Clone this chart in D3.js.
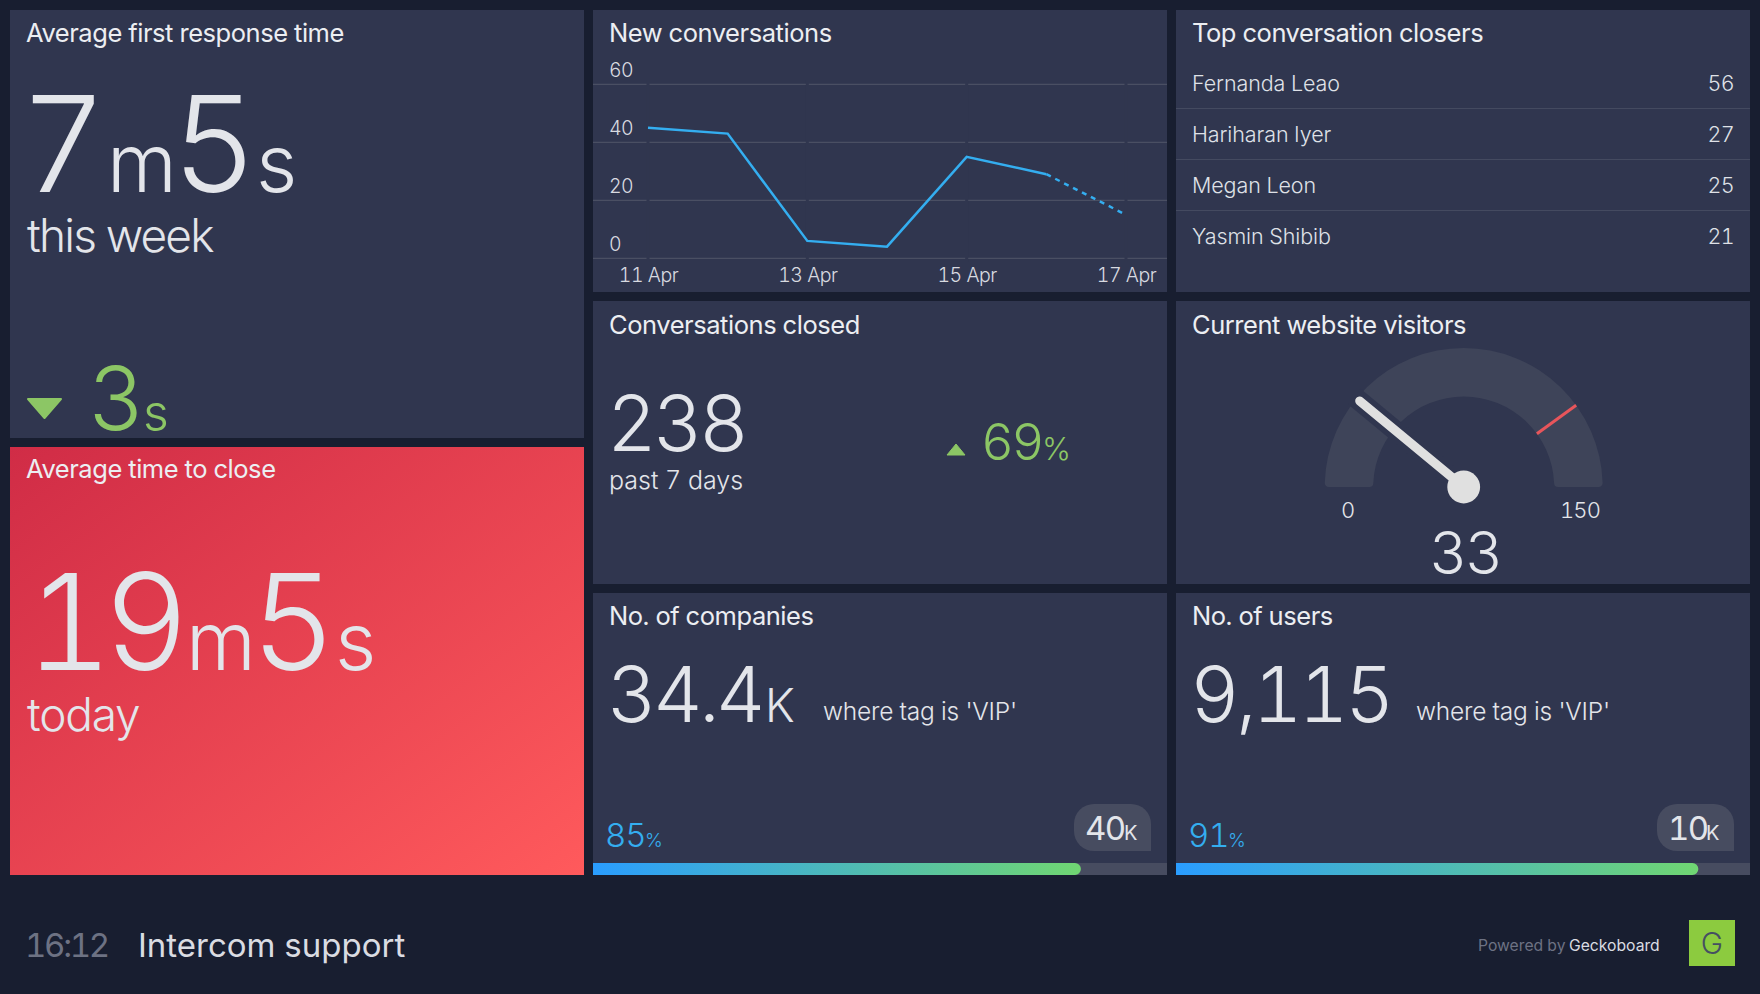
<!DOCTYPE html>
<html>
<head>
<meta charset="utf-8">
<style>
  html, body { margin: 0; padding: 0; background: #181e30; overflow: hidden; }
  svg { display: block; }
  text { font-family: Inter, sans-serif; fill: #e3e5ea; font-variant-numeric: tabular-nums; }
  .title { font-size: 25.5px; font-weight: 400; fill: #eceef2; letter-spacing: -0.45px; }
  .axis text { font-size: 19.5px; fill: #d8dae0; font-family: Inter, sans-serif; font-weight: 300; letter-spacing: -0.5px; }
  .axis path { display: none; }
</style>
</head>
<body>
<script src="https://cdn.jsdelivr.net/npm/d3@7"></script>
<script>
var lineDays = ["11 Apr", "12 Apr", "13 Apr", "14 Apr", "15 Apr", "16 Apr", "17 Apr"];
var lineValues = [45, 43, 6, 4, 35, 29, 15];
var lineTicksY = [0, 20, 40, 60];
var lineTicksX = ["11 Apr", "13 Apr", "15 Apr", "17 Apr"];
var closerNames = ["Fernanda Leao", "Hariharan Iyer", "Megan Leon", "Yasmin Shibib"];
var closerCounts = [56, 27, 25, 21];
var gaugeValue = 33, gaugeMin = 0, gaugeMax = 150, gaugeThreshold = 120;
var progressPercents = [85, 91];
var progressLabels = [["40", "K"], ["10", "K"]];

var svg = d3.select("body").append("svg").attr("width", 1760).attr("height", 994);
var defs = svg.append("defs");

var red = defs.append("linearGradient").attr("id", "redGrad")
  .attr("x1", "0%").attr("y1", "0%").attr("x2", "100%").attr("y2", "100%");
red.append("stop").attr("offset", "0%").attr("stop-color", "#d02c46");
red.append("stop").attr("offset", "100%").attr("stop-color", "#ff5a5c");

var barGrad = defs.append("linearGradient").attr("id", "barGrad");
barGrad.append("stop").attr("offset", "0%").attr("stop-color", "#2a9dff");
barGrad.append("stop").attr("offset", "100%").attr("stop-color", "#70d672");

var panelColor = "#30364f", green = "#8cc665", blue = "#34aef0";

function panel(x, y, w, h, fill) {
  svg.append("rect").attr("x", x).attr("y", y).attr("width", w).attr("height", h).attr("fill", fill || panelColor);
}
function label(x, y, s, size, opts) {
  opts = opts || {};
  return svg.append("text").attr("x", x).attr("y", y).text(s)
    .style("font-size", size + "px")
    .style("font-weight", opts.weight || 300)
    .style("fill", opts.fill || "#e3e5ea")
    .style("letter-spacing", opts.spacing || null)
    .attr("text-anchor", opts.anchor || "start");
}
// one text with pieces at their own x, for number + unit runs
function runs(y, parts, opts) {
  opts = opts || {};
  var t = svg.append("text").attr("y", y)
    .style("font-weight", opts.weight || 300)
    .style("fill", opts.fill || "#e3e5ea");
  parts.forEach(function(p) {
    t.append("tspan").attr("x", p[0]).style("font-size", p[2] + "px")
      .style("fill", p[3] || null).style("letter-spacing", opts.spacing || null).text(p[1]);
  });
}
function title(x, y, s) {
  svg.append("text").attr("class", "title").attr("x", x).attr("y", y).text(s);
}

// panels
panel(10, 10, 574, 428);
panel(10, 447, 574, 428, "url(#redGrad)");
panel(593, 10, 574, 282);
panel(1176, 10, 574, 282);
panel(593, 301, 574, 283);
panel(1176, 301, 574, 283);
panel(593, 593, 574, 282);
panel(1176, 593, 574, 282);

// first response
title(26, 42, "Average first response time");
runs(192, [[20, "7", 134], [107, "m", 80], [171, "5", 134], [256, "s", 80]], { weight: 340 });
label(27, 252, "this week", 46, { spacing: "-1.8px" });
svg.append("path").attr("d", d3.line()([[28, 399], [61, 399], [44.5, 418]]) + "Z").attr("fill", green)
  .attr("stroke", green).attr("stroke-width", 2).attr("stroke-linejoin", "round");
runs(430, [[88, "3", 88], [143, "s", 50]], { fill: green });

// time to close
title(26, 478, "Average time to close");
runs(670, [[26, "19", 134], [186, "m", 80], [250, "5", 134], [335, "s", 80]], { weight: 340, spacing: "-0.07em" });
label(27, 731, "today", 46, { spacing: "-1.2px" });

// line chart
title(609, 42, "New conversations");
var x = d3.scalePoint().domain(lineDays).range([648, 1126]);
var y = d3.scaleLinear().domain([0, 60]).range([258.3, 84.3]);

var grid = svg.append("g");
grid.selectAll("line").data(lineTicksY).join("line")
  .attr("x1", 593).attr("x2", 1167)
  .attr("y1", function(d) { return y(d); }).attr("y2", function(d) { return y(d); })
  .attr("stroke", "#4a4f63").attr("stroke-width", 1.2);
grid.selectAll("rect").data(lineTicksX).join("rect")
  .attr("x", function(d) { return x(d) - 1.5; }).attr("width", 3)
  .attr("y", 80).attr("height", 182).attr("fill", panelColor);

var axisX = d3.axisBottom(x).tickValues(lineTicksX).tickSize(0).tickPadding(0);
svg.append("g").attr("class", "axis").attr("transform", "translate(0,268)").call(axisX);

var axisY = d3.axisRight(y).tickValues(lineTicksY).tickSize(0).tickPadding(0);
svg.append("g").attr("class", "axis").attr("transform", "translate(609,-14)").call(axisY);

var pts = lineDays.map(function(d, i) { return [x(d), y(lineValues[i])]; });
var line = d3.line();
svg.append("path").attr("d", line(pts.slice(0, 6))).attr("fill", "none")
  .attr("stroke", blue).attr("stroke-width", 2.5);
svg.append("path").attr("d", line(pts.slice(5))).attr("fill", "none")
  .attr("stroke", blue).attr("stroke-width", 2.5).attr("stroke-dasharray", "5 5");

// closers
title(1192, 42, "Top conversation closers");
var rowY = d3.scaleLinear().domain([0, 1]).range([91, 142]);
closerNames.forEach(function(name, i) {
  label(1192, rowY(i), name, 21.5, { weight: 350, fill: "#dfe1e7", spacing: "-0.1px" });
  label(1734, rowY(i), closerCounts[i], 21.5, { weight: 350, fill: "#dfe1e7", anchor: "end", spacing: "-0.7px" });
  if (i < 3) {
    svg.append("line").attr("x1", 1176).attr("x2", 1750)
      .attr("y1", rowY(i) + 17.5).attr("y2", rowY(i) + 17.5)
      .attr("stroke", "#444a60").attr("stroke-width", 1);
  }
});

// conversations closed
title(609, 334, "Conversations closed");
label(607, 451, "238", 77, { weight: 340, spacing: "-0.05em" });
label(609, 489, "past 7 days", 25);
svg.append("path").attr("d", d3.line()([[947, 455], [965, 455], [956, 444]]) + "Z").attr("fill", green)
  .attr("stroke", green).attr("stroke-width", 1).attr("stroke-linejoin", "round");
runs(460, [[981, "69", 51], [1042, "%", 31]], { fill: green, spacing: "-0.05em" });

// gauge
title(1192, 334, "Current website visitors");
var cx = 1463.7, cy = 487;
var angle = d3.scaleLinear().domain([gaugeMin, gaugeMax]).range([-Math.PI / 2, Math.PI / 2]);
var g = svg.append("g").attr("transform", "translate(" + cx + "," + cy + ")");
g.append("path").attr("fill", "#3e4459").attr("d", d3.arc()
  .innerRadius(90.5).outerRadius(139).startAngle(angle(gaugeMin)).endAngle(angle(gaugeMax)).cornerRadius(4)());
function polar(r, v) { return [r * Math.sin(angle(v)), -r * Math.cos(angle(v))]; }
var th0 = polar(90.5, gaugeThreshold), th1 = polar(139, gaugeThreshold);
g.append("line").attr("x1", th0[0]).attr("y1", th0[1]).attr("x2", th1[0]).attr("y2", th1[1])
  .attr("stroke", "#e8555b").attr("stroke-width", 3);
var tipHalo = polar(142, gaugeValue), tip = polar(135, gaugeValue);
g.append("line").attr("x2", tipHalo[0]).attr("y2", tipHalo[1]).attr("stroke", panelColor).attr("stroke-width", 20);
g.append("line").attr("x2", tip[0]).attr("y2", tip[1]).attr("stroke", "#e0e0e0")
  .attr("stroke-width", 9).attr("stroke-linecap", "round");
g.append("circle").attr("r", 16.4).attr("fill", "#e0e0e0");
label(1348, 518, gaugeMin, 22, { anchor: "middle" });
label(1580, 518, gaugeMax, 22, { anchor: "middle", spacing: "-0.04em" });
label(1465, 574, gaugeValue, 59, { anchor: "middle", weight: 340, spacing: "-0.04em" });

// number + progress panels
var progress = [
  { px: 593, name: "No. of companies", big: "34.4", unit: "K", unitX: 765, whereX: 823, pillUnit: 50 },
  { px: 1176, name: "No. of users", big: "9,115", unit: "", unitX: 0, whereX: 1416, pillUnit: 49 }
];
var pct = d3.scaleLinear().domain([0, 100]).range([0, 574]);
progress.forEach(function(p, i) {
  title(p.px + 16, 625, p.name);
  if (p.unit) runs(722, [[p.px + 14, p.big, 77], [p.unitX, p.unit, 46]], { weight: 340, spacing: "-0.05em" });
  else label(p.px + 14, 722, p.big, 77, { weight: 340, spacing: "-0.05em" });
  label(p.whereX, 720, "where tag is 'VIP'", 24.5, { spacing: "-0.2px" });
  runs(847, [[p.px + 12, progressPercents[i], 33], [p.px + 52, "%", 19]], { fill: blue, spacing: "-0.03em" });
  // pill, square bottom right corner
  var right = p.px + 558, left = right - 77, top = 804, bottom = 851, r = 20;
  var pill = d3.path();
  pill.moveTo(left + r, top);
  pill.lineTo(right - r, top);
  pill.arcTo(right, top, right, top + r, r);
  pill.lineTo(right, bottom);
  pill.lineTo(left + r, bottom);
  pill.arcTo(left, bottom, left, bottom - r, r);
  pill.lineTo(left, top + r);
  pill.arcTo(left, top, left + r, top, r);
  pill.closePath();
  svg.append("path").attr("d", pill.toString()).attr("fill", "#474c60");
  runs(840, [[left + 11, progressLabels[i][0], 33], [left + p.pillUnit, progressLabels[i][1], 20]], { weight: 400, spacing: "-0.05em" });
  // bar
  svg.append("rect").attr("x", p.px).attr("y", 863).attr("width", 574).attr("height", 12).attr("fill", "#474c60");
  var w = pct(progressPercents[i]);
  var bar = d3.path();
  bar.moveTo(p.px, 863);
  bar.lineTo(p.px + w - 6, 863);
  bar.arcTo(p.px + w, 863, p.px + w, 869, 6);
  bar.arcTo(p.px + w, 875, p.px + w - 6, 875, 6);
  bar.lineTo(p.px, 875);
  bar.closePath();
  svg.append("path").attr("d", bar.toString()).attr("fill", "url(#barGrad)");
});

// footer
label(25, 957, "16:12", 33, { fill: "#6d7283", weight: 400, spacing: "-0.07em" });
label(138, 957, "Intercom support", 33, { fill: "#dadce2", weight: 400 });
runs(951, [[1478, "Powered by", 15.7, "#6d7283"], [1569, "Geckoboard", 15.7, "#dadce2"]], { weight: 400 });
panel(1689, 920, 46, 46, "#8ccb3f");
label(1712, 954, "G", 30, { fill: "#454f62", anchor: "middle", weight: 300 });
</script>
</body>
</html>
